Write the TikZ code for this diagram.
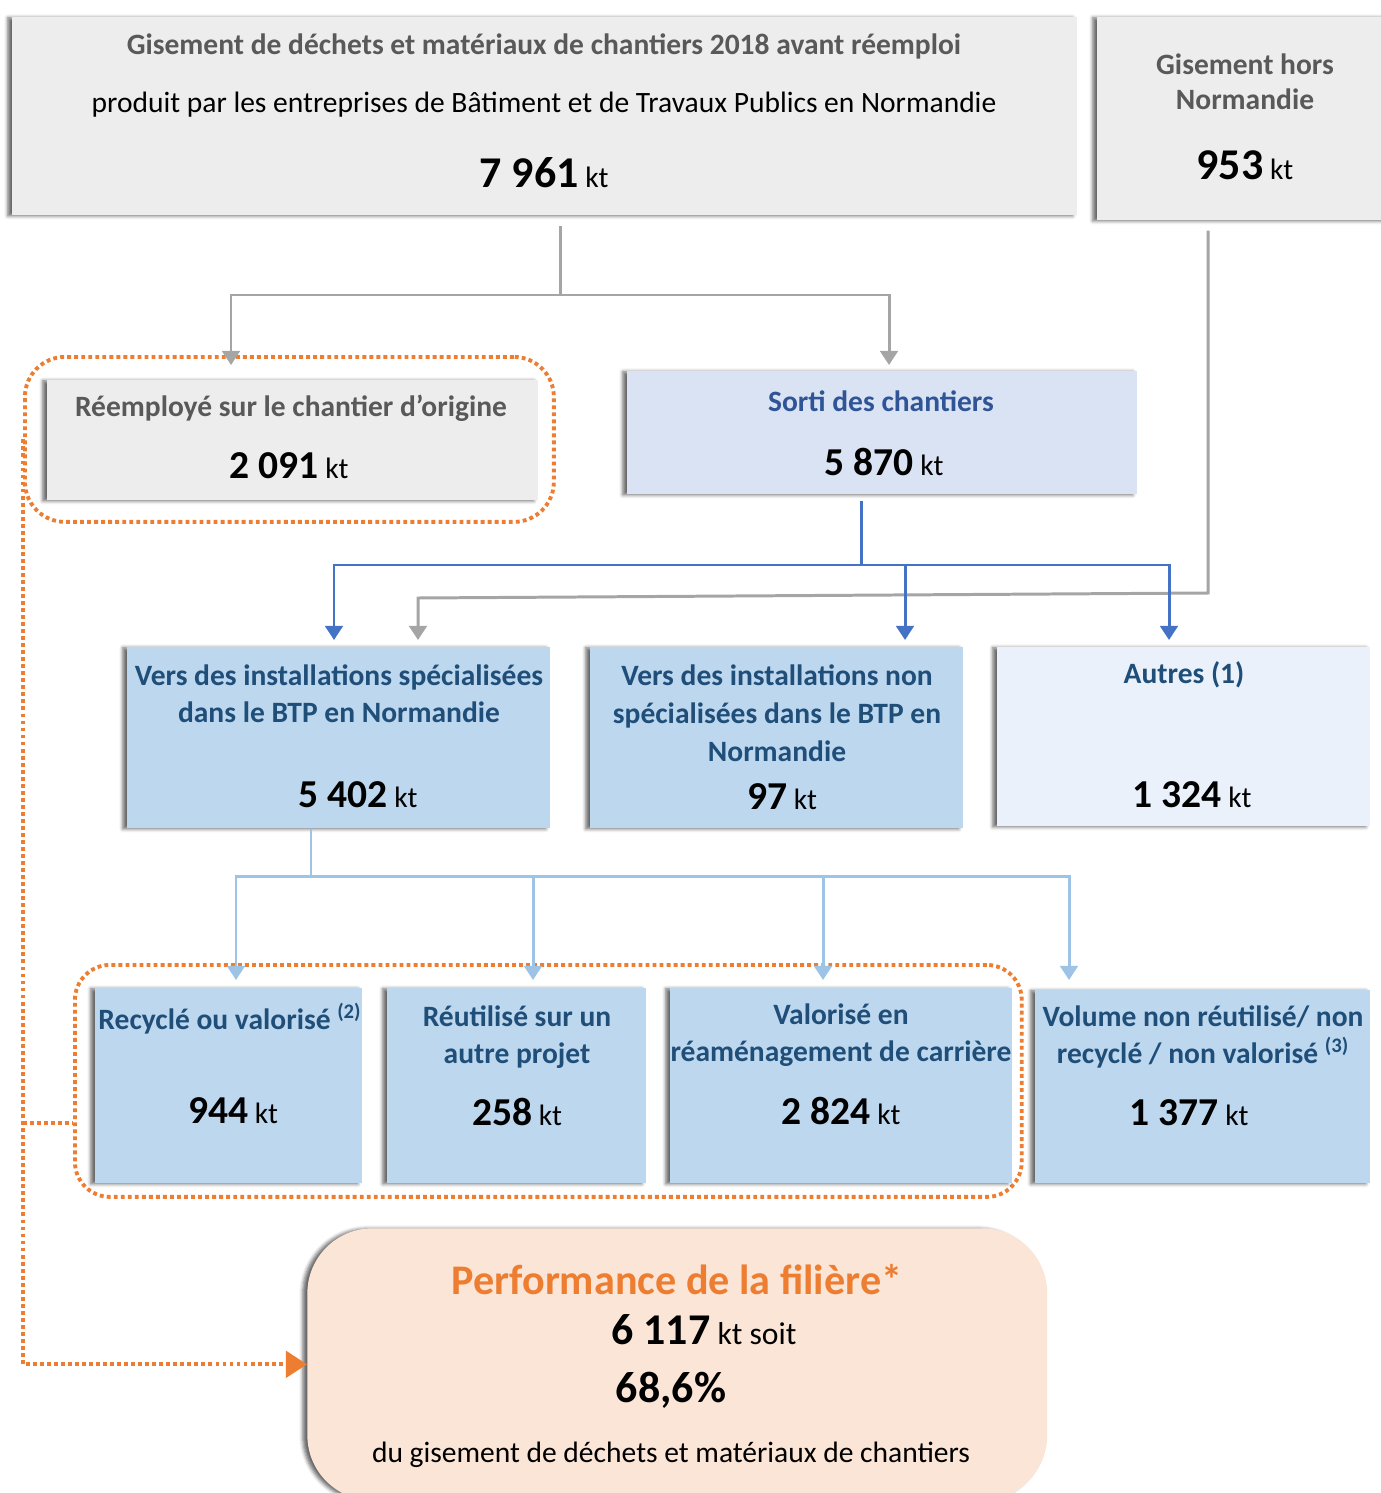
\documentclass[tikz,border=0pt]{standalone}
\usepackage{fontspec}
\setmainfont{Carlito}
\usepackage{tikz}
\usetikzlibrary{arrows.meta, positioning, shadows, shadows.blur}
\definecolor{boxgray}{HTML}{EDEDED}
\definecolor{txtgray}{HTML}{595959}
\definecolor{linegray}{HTML}{A5A5A5}
\definecolor{sortifill}{HTML}{DAE3F3}
\definecolor{sortitxt}{HTML}{2F5597}
\definecolor{lineblue}{HTML}{4472C4}
\definecolor{bluefill}{HTML}{BDD7EE}
\definecolor{paleblue}{HTML}{EAF1FA}
\definecolor{bluetxt}{HTML}{1F4E79}
\definecolor{lineltblue}{HTML}{9DC3E6}
\definecolor{myorange}{HTML}{ED7D31}
\definecolor{perffill}{HTML}{FBE5D6}
\newcommand{\valkt}[2][22.5]{{\fontsize{#1}{30}\selectfont\bfseries #2} kt}
\tikzset{
  box/.style={rectangle, anchor=north west, inner sep=0pt, draw=none,
    blur shadow={shadow xshift=-2.6pt, shadow yshift=-0.3pt, shadow blur radius=2pt, shadow opacity=60}},
  graybox/.style={box, fill=boxgray},
  sortibox/.style={box, fill=sortifill},
  bluebox/.style={box, fill=bluefill},
  palebox/.style={box, fill=paleblue},
  perfbox/.style={box, fill=perffill, rounded corners=1.3cm},
  dotframe/.style={rectangle, anchor=north west, inner sep=0pt, draw=myorange,
    line width=2.2pt, dash pattern=on 2.2pt off 1.8pt},
  titregris/.style={font=\fontsize{16.8}{20}\selectfont\bfseries, text=txtgray, align=center},
  titresorti/.style={font=\fontsize{16.8}{20}\selectfont\bfseries, text=sortitxt, align=center},
  titrebleu/.style={font=\fontsize{16.8}{21}\selectfont\bfseries, text=bluetxt, align=center},
  grayline/.style={line width=1.7pt, color=linegray},
  grayarrow/.style={grayline, -{Triangle[width=10pt,length=8pt]}},
  blueline/.style={line width=1.7pt, color=lineblue},
  bluearrow/.style={blueline, -{Triangle[width=10pt,length=8pt]}},
  ltline/.style={line width=1.7pt, color=lineltblue},
  ltarrow/.style={ltline, -{Triangle[width=10pt,length=8pt]}},
  orangedots/.style={line width=2.2pt, color=myorange, dash pattern=on 2.2pt off 1.8pt}
}
\begin{document}
\begin{tikzpicture}[x=0.02cm, y=-0.02cm, every node/.style={font=\fontsize{16.8}{20}\selectfont}]
  \useasboundingbox (0,0) rectangle (1380,1493);

  % Gisements
  \node[graybox, minimum width=21.3cm, minimum height=3.96cm] (gis) at (12,17) {};
  \node[titregris] (gis-t1) at (544,46) {Gisement de déchets et matériaux de chantiers 2018 avant réemploi};
  \node (gis-t2) at (544,105) {produit par les entreprises de Bâtiment et de Travaux Publics en Normandie};
  \node (gis-v) at (544,173) {\valkt[25]{7 961}};

  \node[graybox, minimum width=5.9cm, minimum height=4.06cm] (hors) at (1097,17) {};
  \node[titregris] (hors-t) at (1245,82) {Gisement hors\\Normandie};
  \node (hors-v) at (1245,165) {\valkt[25]{953}};

  % Reemploi et sortie
  \node[dotframe, rounded corners=0.8cm, minimum width=10.58cm, minimum height=3.3cm] (grp1) at (23,355) {};
  \node[graybox, minimum width=9.82cm, minimum height=2.4cm] (reemp) at (47,380) {};
  \node[titregris] (reemp-t) at (291,408) {Réemployé sur le chantier d’origine};
  \node (reemp-v) at (289,466) {\valkt{2 091}};

  \node[sortibox, minimum width=10.2cm, minimum height=2.46cm] (sortie) at (627,371) {};
  \node[titresorti] (sortie-t) at (881,401) {Sorti des chantiers};
  \node (sortie-v) at (884,462) {\valkt{5 870}};

  % Destinations
  \node[bluebox, minimum width=8.46cm, minimum height=3.62cm] (spec) at (127,647) {};
  \node[titrebleu] (spec-t) at (339,694) {Vers des installations spécialisées\\dans le BTP en Normandie};
  \node (spec-v) at (358,795) {\valkt{5 402}};

  \node[bluebox, minimum width=7.46cm, minimum height=3.62cm] (nonspec) at (590,647) {};
  \node[titrebleu, font=\fontsize{16.8}{21.5}\selectfont\bfseries] (nonspec-t) at (777,713) {Vers des installations non\\spécialisées dans le BTP en\\Normandie};
  \node (nonspec-v) at (782,797) {\valkt{97}};

  \node[palebox, minimum width=7.46cm, minimum height=3.58cm] (autres) at (997,647) {};
  \node[titrebleu] (autres-t) at (1184,675) {Autres (1)};
  \node (autres-v) at (1192,795) {\valkt{1 324}};

  % Traitements
  \node[dotframe, rounded corners=0.7cm, minimum width=18.94cm, minimum height=4.64cm] (grp2) at (73,963) {};
  \node[bluebox, minimum width=5.34cm, minimum height=3.9cm] (recy) at (95,988) {};
  \node[titrebleu] (recy-t) at (230,1019) {Recyclé ou valorisé \textsuperscript{(2)}};
  \node (recy-v) at (233,1111) {\valkt{944}};

  \node[bluebox, minimum width=5.18cm, minimum height=3.9cm] (reut) at (387,988) {};
  \node[titrebleu] (reut-t) at (517,1037) {Réutilisé sur un\\autre projet};
  \node (reut-v) at (517,1112) {\valkt{258}};

  \node[bluebox, minimum width=6.84cm, minimum height=3.9cm] (valo) at (670,988) {};
  \node[titrebleu] (valo-t) at (841,1035) {Valorisé en\\réaménagement de carrière};
  \node (valo-v) at (841,1111) {\valkt{2 824}};

  \node[bluebox, minimum width=6.7cm, minimum height=3.86cm] (vol) at (1035,990) {};
  \node[titrebleu] (vol-t) at (1203,1037) {Volume non réutilisé/ non\\recyclé / non valorisé \textsuperscript{(3)}};
  \node (vol-v) at (1189,1113) {\valkt{1 377}};

  % Performance
  \node[perfbox, minimum width=14.8cm, minimum height=5.44cm] (perf) at (307,1228) {};
  \node[font=\fontsize{24}{28}\selectfont\bfseries, text=myorange] (perf-t1) at (677,1280) {Performance de la filière*};
  \node[font=\fontsize{18}{22}\selectfont] (perf-t2) at (704,1330) {\valkt[25]{6 117} soit};
  \node[font=\fontsize{25}{30}\selectfont\bfseries] (perf-t3) at (671,1390) {68,6\%};
  \node (perf-t4) at (671,1455) {du gisement de déchets et matériaux de chantiers};

  % Connecteurs gris
  \coordinate (j1) at (560,295);
  \draw[grayline, shorten <=0.2cm] (gis.south -| j1) -- (j1);
  \draw[grayarrow, shorten >=0.3cm] (j1) -| (reemp.north -| 231,0);
  \draw[grayarrow, shorten >=0.12cm] (j1) -| (sortie.north -| 889,0);
  \coordinate (j3) at (1208,593);
  \coordinate (j4) at (418,598);
  \draw[grayarrow, shorten <=0.2cm, shorten >=0.14cm] (hors.south -| j3) -- (j3) -- (j4) -- (spec.north -| j4);

  % Connecteurs bleus
  \coordinate (j2) at (861,565);
  \draw[blueline, shorten <=0.12cm] (sortie.south -| j2) -- (j2);
  \draw[bluearrow, shorten >=0.14cm] (j2) -| (spec.north -| 334,0);
  \draw[bluearrow, shorten >=0.14cm] (j2) -| (nonspec.north -| 905,0);
  \draw[bluearrow, shorten >=0.14cm] (j2) -| (autres.north -| 1169,0);

  % Connecteurs bleu clair
  \coordinate (j5) at (311,876);
  \draw[ltline] (spec.south -| j5) -- (j5);
  \draw[ltarrow, shorten >=0.16cm] (j5) -| (recy.north -| 236,0);
  \draw[ltarrow, shorten >=0.16cm] (j5) -| (reut.north -| 533,0);
  \draw[ltarrow, shorten >=0.16cm] (j5) -| (valo.north -| 823,0);
  \draw[ltarrow, shorten >=0.2cm] (j5) -| (vol.north -| 1069,0);

  % Lien vers la performance
  \draw[orangedots, -{Triangle[width=15pt,length=12pt]}] (grp1.west) -- (grp1.west |- perf.west) -- (perf.west);
  \draw[orangedots] (grp1.west |- 0,1123) -- (grp2.west |- 0,1123);
\end{tikzpicture}
\end{document}
